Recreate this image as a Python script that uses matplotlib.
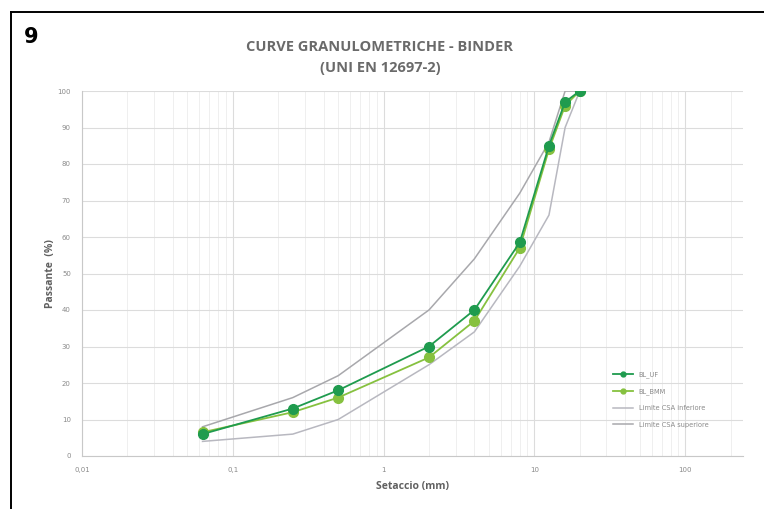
import matplotlib
matplotlib.use("Agg")
import matplotlib.pyplot as plt
from matplotlib.lines import Line2D
from matplotlib.ticker import FixedLocator, LogLocator, NullFormatter

# sieve sizes (mm)
setacci = [0.063, 0.25, 0.5, 2, 4, 8, 12.5, 16, 20]
bl_uf = [6, 13, 18, 30, 40, 58.5, 85, 97, 100]
bl_bmm = [6.5, 12, 16, 27, 37, 57, 84, 96, 100]
lim_inf = [4, 6, 10, 25, 34, 52, 66, 90, 100]
lim_sup = [8, 16, 22, 40, 54, 72, 86, 100, 100]

x_ticks = [0.01, 0.1, 1, 10, 100]
x_labels = ["0,01", "0,1", "1", "10", "100"]
y_ticks = list(range(0, 101, 10))

W, H = 764, 509
fig = plt.figure(figsize=(W / 100, H / 100), dpi=100)
ax = fig.add_axes([82 / W, 1 - 456 / H, (743 - 82) / W, (456 - 91) / H])

ax.plot(setacci, lim_inf, color="#b8b8c0", lw=1.1, label="Limite CSA inferiore", zorder=2)
ax.plot(setacci, lim_sup, color="#a8a8ac", lw=1.1, label="Limite CSA superiore", zorder=2)
ax.plot(setacci, bl_bmm, color="#86c13f", lw=1.3, marker="o", ms=7,
        label="BL_BMM", zorder=3)
ax.plot(setacci, bl_uf, color="#1f9b4e", lw=1.3, marker="o", ms=7,
        label="BL_UF", zorder=4)

ax.set_xscale("log")
ax.set_xlim(0.01, 242)
ax.set_ylim(0, 100)
ax.xaxis.set_major_locator(FixedLocator(x_ticks))
ax.set_xticklabels(x_labels)
ax.xaxis.set_minor_locator(LogLocator(base=10, subs=range(2, 10)))
ax.xaxis.set_minor_formatter(NullFormatter())
ax.set_yticks(y_ticks)

ax.grid(True, which="major", color="#dcdcdc", lw=0.8)
ax.grid(True, which="minor", axis="x", color="#ececec", lw=0.6)
ax.set_axisbelow(True)
for s in ["top", "right"]:
    ax.spines[s].set_visible(False)
for s in ["left", "bottom"]:
    ax.spines[s].set_color("#c8c8c8")
    ax.spines[s].set_linewidth(0.8)
ax.tick_params(which="both", length=0, labelsize=5, labelcolor="#8a8a8a", pad=8)

ax.set_xlabel("Setaccio (mm)", fontsize=7.5, fontweight="bold", color="#606060",
              family="Open Sans", labelpad=6)
ax.set_ylabel("Passante  (%)", fontsize=7.5, fontweight="bold", color="#606060",
              family="Open Sans", labelpad=1)

fig.text(380 / W, 1 - 47 / H, "CURVE GRANULOMETRICHE - BINDER", ha="center", va="center",
         fontsize=10.5, fontweight="bold", color="#6a6a6a", family="Open Sans")
fig.text(380 / W, 1 - 68 / H, "(UNI EN 12697-2)", ha="center", va="center",
         fontsize=10.5, fontweight="bold", color="#6a6a6a", family="Open Sans")
fig.text(24 / W, 1 - 37 / H, "9", ha="left", va="center", fontsize=15,
         fontweight="bold", color="black", family=["Liberation Sans Narrow", "DejaVu Sans"])

handles, labels = ax.get_legend_handles_labels()
order = [3, 2, 0, 1]
leg = ax.legend([handles[i] for i in order], [labels[i] for i in order],
                loc="center left", bbox_to_anchor=(0.795, 0.155), frameon=False,
                fontsize=4.8, markerscale=0.5, handlelength=3, labelspacing=1.55)
for t in leg.get_texts():
    t.set_color("#8a8a8a")

# frame lines of the original page
fig.add_artist(Line2D([11 / W, 1], [1 - 12 / H, 1 - 12 / H], color="black", lw=1.4))
fig.add_artist(Line2D([11 / W, 11 / W], [0, 1 - 12 / H], color="black", lw=1.4))

fig.savefig("out.png", dpi=100)
